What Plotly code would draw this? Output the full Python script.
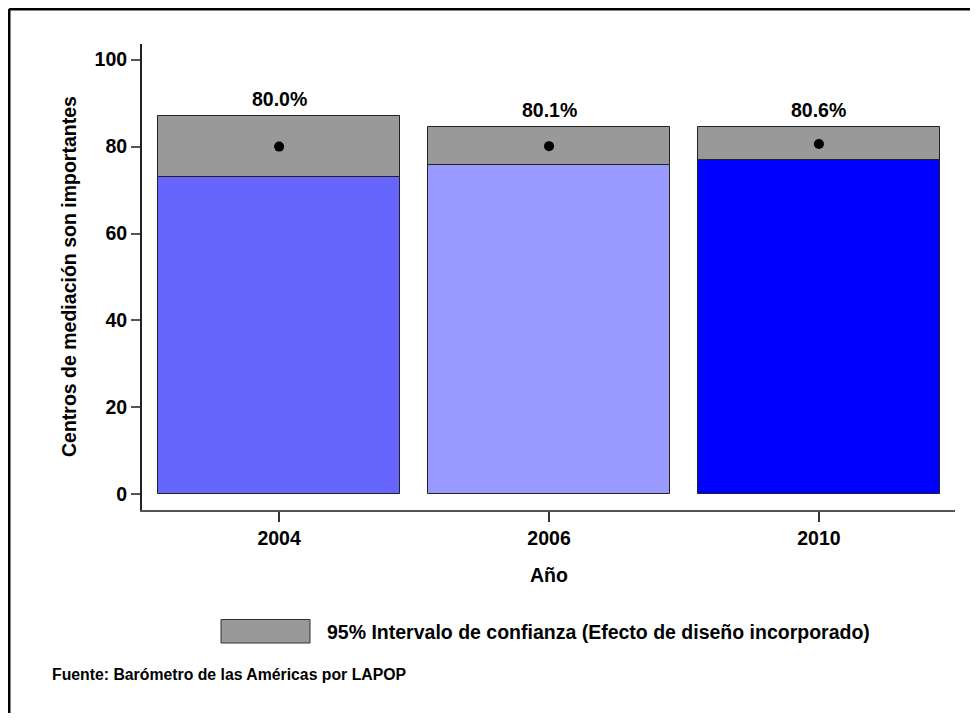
import plotly.graph_objects as go

# Data
years = ["2004", "2006", "2010"]
means = [80.0, 80.1, 80.6]
ci_low = [73.1, 75.8, 76.9]
ci_high = [87.0, 84.5, 84.5]
bar_colors = ["#6666FF", "#9999FF", "#0000FF"]
y_ticks = [0, 20, 40, 60, 80, 100]

y_title = "Centros de mediación son importantes"
x_title = "Año"
legend_text = "95% Intervalo de confianza (Efecto de diseño incorporado)"
source_text = "Fuente: Barómetro de las Américas por LAPOP"

FONT = "Liberation Sans, Arial, Helvetica, sans-serif"
OFF = 8  # page body margin
W, H = 962, 705
# plot area in page pixels: left 142, right 955, top 44, bottom 510
PL, PR, PT, PB = 142, 955, 44, 510
ML, MR, MT, MB = PL - OFF, W - (PR - OFF), PT - OFF, H - (PB - OFF)
PW, PH = PR - PL, PB - PT

def px_x(px):
    return (px - PL) / PW

def px_y(py):
    return (PB - py) / PH

xpos = list(range(len(years)))
bw = 0.896

fig = go.Figure()
fig.add_trace(go.Bar(
    x=xpos, y=ci_low, base=0, width=bw,
    marker=dict(color=bar_colors, line=dict(color="#222222", width=1)),
    hoverinfo="skip", showlegend=False,
))
fig.add_trace(go.Bar(
    x=xpos, y=[h - l for h, l in zip(ci_high, ci_low)], base=ci_low, width=bw,
    marker=dict(color="#999999", line=dict(color="#222222", width=1)),
    hoverinfo="skip", showlegend=False,
))
fig.add_trace(go.Scatter(
    x=xpos, y=means, mode="markers",
    marker=dict(color="black", size=10),
    showlegend=False, hoverinfo="skip",
))

FS = 19.5
annotations = []
for xi, m, h in zip(xpos, means, ci_high):
    annotations.append(dict(
        x=xi, y=h, xref="x", yref="y", text=f"{m:.1f}%", showarrow=False,
        yanchor="bottom", yshift=4,
        font=dict(family=FONT, size=FS, color="black", weight="bold"),
    ))

# axis titles
annotations.append(dict(
    x=0, y=0.5, xref="paper", yref="paper", text=y_title, showarrow=False,
    textangle=-90, xanchor="center", yanchor="middle", xshift=69 - PL,
    font=dict(family=FONT, size=FS, color="black", weight="bold"),
))
annotations.append(dict(
    x=0.5, y=0, xref="paper", yref="paper", text=x_title, showarrow=False,
    xanchor="center", yanchor="middle", yshift=-(575 - PB),
    font=dict(family=FONT, size=FS, color="black", weight="bold"),
))
# legend text
annotations.append(dict(
    x=px_x(325), y=px_y(632), xref="paper", yref="paper", text=legend_text,
    showarrow=False, xanchor="left", yanchor="middle",
    font=dict(family=FONT, size=FS, color="black", weight="bold"),
))
# source
annotations.append(dict(
    x=px_x(50), y=px_y(674), xref="paper", yref="paper", text=source_text,
    showarrow=False, xanchor="left", yanchor="middle",
    font=dict(family=FONT, size=15.8, color="black", weight="bold"),
))

shapes = [
    # legend box
    dict(type="rect", xref="paper", yref="paper",
         x0=px_x(221), x1=px_x(310), y0=px_y(643), y1=px_y(619.5),
         fillcolor="#999999", line=dict(color="#333333", width=1)),
    # outer frame (top and left)
    dict(type="line", xref="paper", yref="paper",
         x0=px_x(9), x1=px_x(OFF + W + 5), y0=px_y(9), y1=px_y(9),
         line=dict(color="black", width=3)),
    dict(type="line", xref="paper", yref="paper",
         x0=px_x(9), x1=px_x(9), y0=px_y(9), y1=px_y(OFF + H + 5),
         line=dict(color="black", width=3)),
]

fig.update_layout(
    width=W, height=H, autosize=False,
    margin=dict(l=ML, r=MR, t=MT, b=MB),
    paper_bgcolor="white", plot_bgcolor="white",
    barmode="overlay", bargap=0,
    font=dict(family=FONT, size=FS, color="black", weight="bold"),
    annotations=annotations, shapes=shapes,
    xaxis=dict(
        range=[-0.508, 2.504], tickvals=xpos, ticktext=years,
        showgrid=False, zeroline=False, showline=True,
        linecolor="#555555", linewidth=2,
        ticks="outside", ticklen=10, tickcolor="#333333", tickwidth=1.5,
        tickfont=dict(family=FONT, size=FS, color="black", weight="bold"),
        fixedrange=True,
    ),
    yaxis=dict(
        range=[-3.6, 103.6], tickvals=y_ticks,
        showgrid=False, zeroline=False, showline=True,
        linecolor="#222222", linewidth=2,
        ticks="outside", ticklen=9, tickcolor="#555555", tickwidth=1.5,
        tickfont=dict(family=FONT, size=FS, color="black", weight="bold"),
        fixedrange=True,
    ),
)

fig.write_html("out.html", config={"displayModeBar": False})
